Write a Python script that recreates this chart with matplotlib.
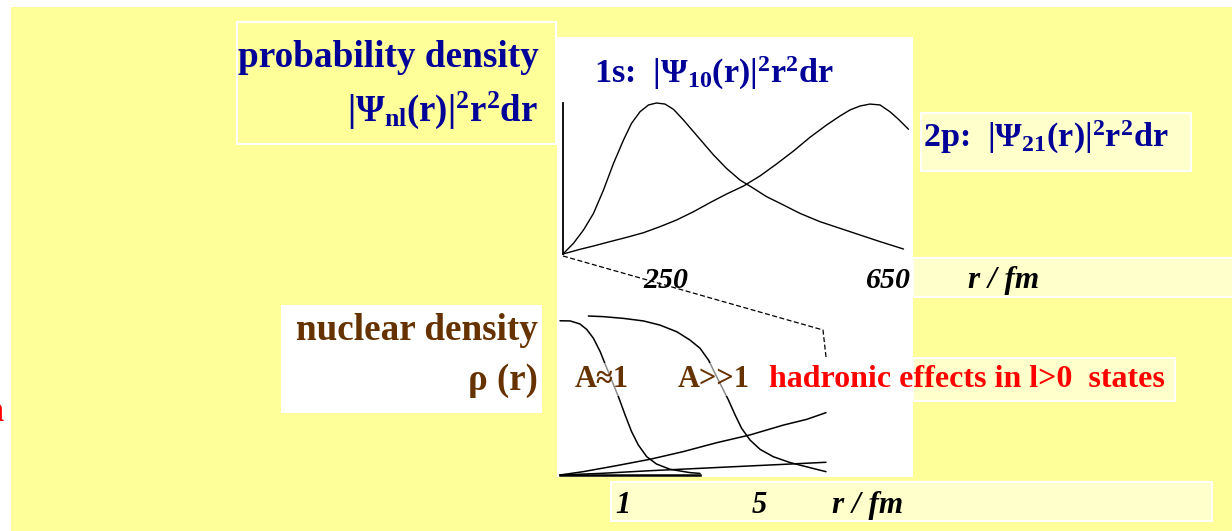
import matplotlib.pyplot as plt
from matplotlib.patches import Rectangle

plt.rcParams['font.family'] = ['Liberation Serif', 'DejaVu Serif']
plt.rcParams['font.weight'] = 'bold'
plt.rcParams['mathtext.fontset'] = 'custom'
plt.rcParams['mathtext.rm'] = 'Liberation Serif:bold'
plt.rcParams['mathtext.bf'] = 'Liberation Serif:bold'
plt.rcParams['mathtext.it'] = 'Liberation Serif:italic:bold'
plt.rcParams['mathtext.default'] = 'bf'

BLUE = '#000099'
BROWN = '#663300'
RED = '#ff0000'
YELLOW = '#ffff99'
PALE = '#ffffcc'

# atomic orbitals |psi|^2 r^2, r in fm, scaled to the 1s peak
r_1s = [0, 21, 41, 61, 81, 101, 121, 137, 154, 171, 187, 204, 221, 241, 261,
        281, 301, 327, 354, 381, 407, 434, 474, 514, 554, 594, 634, 681]
p_1s = [0, 0.071, 0.159, 0.269, 0.424, 0.600, 0.755, 0.865, 0.942, 0.987, 1.0,
        0.993, 0.958, 0.887, 0.810, 0.733, 0.656, 0.567, 0.490, 0.435, 0.380,
        0.336, 0.269, 0.214, 0.170, 0.126, 0.082, 0.033]
r_2p = [0, 34, 61, 94, 127, 161, 194, 227, 261, 294, 327, 361, 394, 427, 461,
        494, 527, 554, 574, 594, 614, 634, 654, 671, 691]
p_2p = [0, 0.031, 0.053, 0.082, 0.110, 0.141, 0.181, 0.225, 0.280, 0.340,
        0.397, 0.450, 0.517, 0.596, 0.682, 0.773, 0.854, 0.914, 0.954, 0.980,
        0.993, 0.987, 0.942, 0.892, 0.826]

# nuclear densities and the orbitals close to the nucleus, r in fm
r_light = [0, 0.30, 0.59, 0.79, 0.99, 1.19, 1.33, 1.53, 1.73, 1.93, 2.12,
           2.32, 2.57, 2.86, 3.26, 3.85, 4.15]
rho_light = [0.970, 0.969, 0.950, 0.916, 0.860, 0.776, 0.702, 0.597, 0.493,
             0.377, 0.273, 0.189, 0.115, 0.069, 0.036, 0.015, 0.010]
r_heavy = [0.84, 1.28, 1.88, 2.47, 2.96, 3.46, 3.85, 4.15, 4.40, 4.59, 4.79,
           4.99, 5.19, 5.38, 5.63, 5.93, 6.32, 6.82, 7.41, 7.88]
rho_heavy = [1.0, 0.996, 0.985, 0.969, 0.943, 0.901, 0.849, 0.797, 0.723,
             0.640, 0.556, 0.472, 0.377, 0.294, 0.220, 0.161, 0.115, 0.078,
             0.046, 0.021]
r_1s_in = [0, 0.69, 1.68, 2.67, 3.65, 4.64, 5.63, 6.62, 7.31, 7.88]
p_1s_in = [0, 0.021, 0.059, 0.099, 0.147, 0.203, 0.252, 0.314, 0.350, 0.392]
r_2p_in = [0, 1.19, 2.67, 4.15, 5.63, 6.82, 7.88]
p_2p_in = [0, 0.010, 0.027, 0.042, 0.057, 0.069, 0.080]

W, H = 1232, 531
fig = plt.figure(figsize=(W / 100, H / 100), dpi=100)
fig.patch.set_facecolor('white')


def overlay():
    a = fig.add_axes([0, 0, 1, 1])
    a.set_xlim(0, W)
    a.set_ylim(H, 0)
    a.axis('off')
    a.patch.set_alpha(0)
    return a


def px_axes(x0, y0, x1, y1):
    a = fig.add_axes([x0 / W, 1 - y1 / H, (x1 - x0) / W, (y1 - y0) / H])
    a.patch.set_alpha(0)
    for s in a.spines.values():
        s.set_visible(False)
    a.set_xticks([])
    a.set_yticks([])
    return a


bg = overlay()


def box(x0, y0, x1, y1, fc, ec=None, lw=0):
    bg.add_patch(Rectangle((x0, y0), x1 - x0, y1 - y0, facecolor=fc,
                           edgecolor=ec if ec else fc, linewidth=lw))


# slide background and panels
box(11, 7, W, H, YELLOW)
box(237, 22, 556, 144, YELLOW, 'white', 1.5)
box(557, 37, 913, 477, 'white')
box(281, 305, 542, 413, 'white')
box(921, 113, 1191, 171, PALE, 'white', 1.5)
box(913, 258, W + 5, 297, PALE, 'white', 1.5)
box(913, 358, 1175, 401, PALE, 'white', 1.5)
box(611, 482, 1212, 521, PALE, 'white', 1.5)

# zoom guide from the atomic origin down to the nuclear scale
bg.plot([563, 823, 826], [256, 330, 357], color='black', lw=0.9, ls=(0, (4, 2)))

line = dict(color='black', clip_on=False, solid_joinstyle='round',
            solid_capstyle='round')

# atomic scale
ax1 = px_axes(563, 37, 913, 254)
ax1.set_xlim(0, 700)
ax1.set_ylim(0, 217 / 151)
ax1.spines['left'].set_visible(True)
ax1.spines['left'].set_bounds(0, 1.0)
ax1.spines['left'].set_linewidth(1.3)
ax1.plot(r_1s, p_1s, lw=1.0, **line)
ax1.plot(r_2p, p_2p, lw=1.0, **line)

# nuclear scale
ax2 = px_axes(560, 316, 830, 475)
ax2.set_xlim(0, 8)
ax2.set_ylim(0, 1)
ax2.spines['bottom'].set_visible(True)
ax2.spines['bottom'].set_bounds(0, 4.15)
ax2.spines['bottom'].set_linewidth(1.8)
for r, v in [(r_light, rho_light), (r_heavy, rho_heavy),
             (r_1s_in, p_1s_in), (r_2p_in, p_2p_in)]:
    ax2.plot(r, v, lw=1.1, **line)

fg = overlay()


def label(x, y, s, color, size, ha='left', **kw):
    fg.text(x, y, s, color=color, fontsize=size, ha=ha, va='baseline',
            fontweight='bold', **kw)


label(238, 67, 'probability density', BLUE, 26.8)
label(538, 121, '|Ψ$_{nl}$(r)|$^2$r$^2$dr', BLUE, 26.5, ha='right')
label(594, 83, '1s:  |Ψ$_{10}$(r)|$^2$r$^2$dr', BLUE, 24.6)
label(923, 147, '2p:  |Ψ$_{21}$(r)|$^2$r$^2$dr', BLUE, 24.6)

label(643, 288, '250', 'black', 21.5, style='italic')
label(866, 288, '650', 'black', 21.5, style='italic')
label(968, 288, 'r / fm', 'black', 22.5, style='italic')

label(296, 340, 'nuclear density', BROWN, 26.7)
label(538, 390, 'ρ (r)', BROWN, 26.5, ha='right')
haze = dict(boxstyle='square,pad=0.08', facecolor='white', alpha=0.55, edgecolor='none')
label(575, 387, 'A≈1', BROWN, 22, bbox=haze)
label(678, 387, 'A>>1', BROWN, 22, bbox=haze)
label(769, 387, 'hadronic effects in l>0  states', RED, 23)

label(615, 513, '1', 'black', 22, style='italic')
label(752, 513, '5', 'black', 22, style='italic')
label(832, 513, 'r / fm', 'black', 22.5, style='italic')

# edge of a word running off the left of the slide
label(4, 421, 'n', RED, 26, ha='right')

fig.savefig('out.png', dpi=100)
